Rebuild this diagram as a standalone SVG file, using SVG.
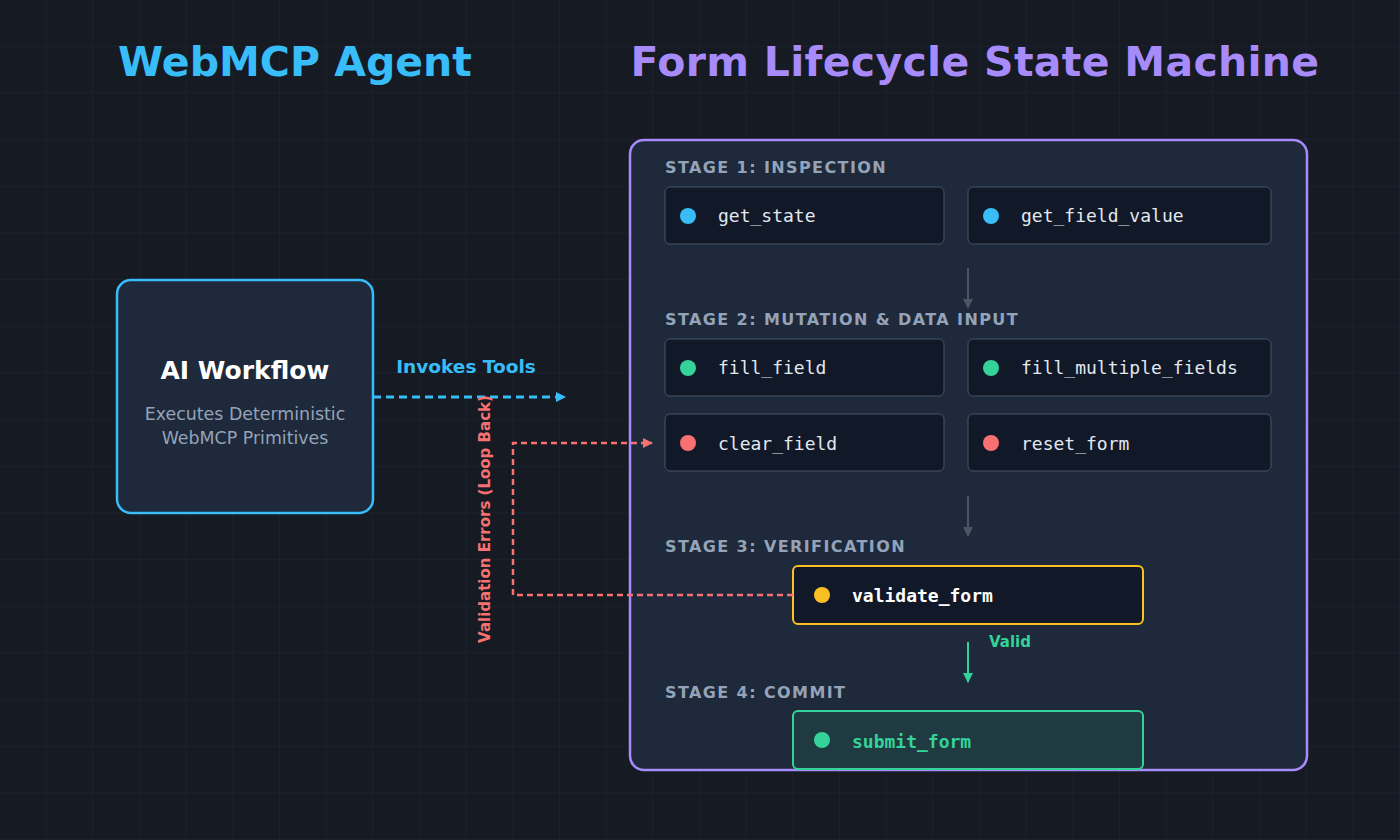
<svg xmlns="http://www.w3.org/2000/svg" width="1400" height="840" viewBox="0 0 1400 840">
<defs>
<pattern id="grid" width="46.667" height="46.667" patternUnits="userSpaceOnUse">
<path d="M46.667 0V46.667H0" fill="none" stroke="#1f2733" stroke-width="1"/>
</pattern>
<marker id="ab" markerWidth="10" markerHeight="10" refX="9" refY="5" orient="auto" markerUnits="userSpaceOnUse"><path d="M0 0L10 5L0 10z" fill="#38bdf8"/></marker>
<marker id="ar" markerWidth="10" markerHeight="10" refX="9" refY="5" orient="auto" markerUnits="userSpaceOnUse"><path d="M0 0L10 5L0 10z" fill="#f87171"/></marker>
<marker id="ag" markerWidth="10" markerHeight="10" refX="9" refY="5" orient="auto" markerUnits="userSpaceOnUse"><path d="M0 0L10 5L0 10z" fill="#34d399"/></marker>
<marker id="ay" markerWidth="10" markerHeight="10" refX="9" refY="5" orient="auto" markerUnits="userSpaceOnUse"><path d="M0 0L10 5L0 10z" fill="#4b5563"/></marker>
<style>
.t{font-family:"DejaVu Sans",sans-serif;font-weight:bold}
.stage{font-family:"DejaVu Sans",sans-serif;font-weight:bold;font-size:16px;fill:#94a3b8;letter-spacing:1.4px}
.tool{fill:#111827;stroke:#475569;stroke-width:1}
.mono{font-family:"DejaVu Sans Mono",monospace;font-size:18px;fill:#e2e8f0}
</style>
</defs>
<rect width="1400" height="840" fill="#151a23"/>
<rect width="1400" height="840" fill="url(#grid)"/>
<text class="t" x="295" y="76" font-size="41" fill="#38bdf8" text-anchor="middle">WebMCP Agent</text>
<text class="t" x="975" y="76" font-size="41" fill="#a78bfa" text-anchor="middle" letter-spacing="0.3">Form Lifecycle State Machine</text>

<g id="agent">
<rect x="117" y="280" width="256" height="233" rx="14" fill="#1e293b" stroke="#38bdf8" stroke-width="2.5"/>
<text class="t" x="245" y="379" font-size="25" fill="#ffffff" text-anchor="middle">AI Workflow</text>
<text x="245" y="420" font-family="DejaVu Sans,sans-serif" font-size="17.4" fill="#94a3b8" text-anchor="middle">Executes Deterministic</text>
<text x="245" y="444" font-family="DejaVu Sans,sans-serif" font-size="17.4" fill="#94a3b8" text-anchor="middle">WebMCP Primitives</text>
</g>

<g id="machine">
<rect x="630" y="140" width="677" height="630" rx="14" fill="#1e293b" stroke="#a78bfa" stroke-width="2.5"/>
<text class="stage" x="665" y="173">STAGE 1: INSPECTION</text>
<text class="stage" x="665" y="325">STAGE 2: MUTATION &amp; DATA INPUT</text>
<text class="stage" x="665" y="552">STAGE 3: VERIFICATION</text>
<text class="stage" x="665" y="698">STAGE 4: COMMIT</text>
</g>

<g id="get_state"><rect class="tool" x="665" y="187" width="279" height="57" rx="5"/><circle cx="688" cy="216" r="8" fill="#38bdf8"/><text class="mono" x="718" y="222">get_state</text></g>
<g id="get_field_value"><rect class="tool" x="968" y="187" width="303" height="57" rx="5"/><circle cx="991" cy="216" r="8" fill="#38bdf8"/><text class="mono" x="1021" y="222">get_field_value</text></g>
<g id="fill_field"><rect class="tool" x="665" y="339" width="279" height="57" rx="5"/><circle cx="688" cy="368" r="8" fill="#34d399"/><text class="mono" x="718" y="374">fill_field</text></g>
<g id="fill_multiple_fields"><rect class="tool" x="968" y="339" width="303" height="57" rx="5"/><circle cx="991" cy="368" r="8" fill="#34d399"/><text class="mono" x="1021" y="374">fill_multiple_fields</text></g>
<g id="clear_field"><rect class="tool" x="665" y="414" width="279" height="57" rx="5"/><circle cx="688" cy="443" r="8" fill="#f87171"/><text class="mono" x="718" y="450">clear_field</text></g>
<g id="reset_form"><rect class="tool" x="968" y="414" width="303" height="57" rx="5"/><circle cx="991" cy="443" r="8" fill="#f87171"/><text class="mono" x="1021" y="450">reset_form</text></g>
<g id="validate_form"><rect x="793" y="566" width="350" height="58" rx="5" fill="#111827" stroke="#fbbf24" stroke-width="2"/><circle cx="822" cy="595" r="8" fill="#fbbf24"/><text class="mono" x="852" y="602" style="fill:#fff;font-weight:bold">validate_form</text></g>
<g id="submit_form"><rect x="793" y="711" width="350" height="58" rx="5" fill="#1f3a41" stroke="#34d399" stroke-width="2"/><circle cx="822" cy="740" r="8" fill="#34d399"/><text class="mono" x="852" y="748" style="fill:#34d399;font-weight:bold">submit_form</text></g>

<g id="connectors">
<line x1="373" y1="397" x2="565" y2="397" stroke="#38bdf8" stroke-width="3" stroke-dasharray="8 5" marker-end="url(#ab)"/>
<text class="t" x="466" y="373" font-size="18.5" fill="#38bdf8" text-anchor="middle">Invokes Tools</text>
<path d="M793 595H513V443H652" fill="none" stroke="#f87171" stroke-width="2.5" stroke-dasharray="6 4" marker-end="url(#ar)"/>
<text class="t" x="490" y="519" font-size="15" fill="#f87171" text-anchor="middle" transform="rotate(-90 490 519)">Validation Errors (Loop Back)</text>
<line x1="968" y1="268" x2="968" y2="308" stroke="#4b5563" stroke-width="2" marker-end="url(#ay)"/>
<line x1="968" y1="496" x2="968" y2="536" stroke="#4b5563" stroke-width="2" marker-end="url(#ay)"/>
<line x1="968" y1="642" x2="968" y2="682" stroke="#34d399" stroke-width="2" marker-end="url(#ag)"/>
<text class="t" x="989" y="647" font-size="15" fill="#34d399">Valid</text>
</g>
</svg>
